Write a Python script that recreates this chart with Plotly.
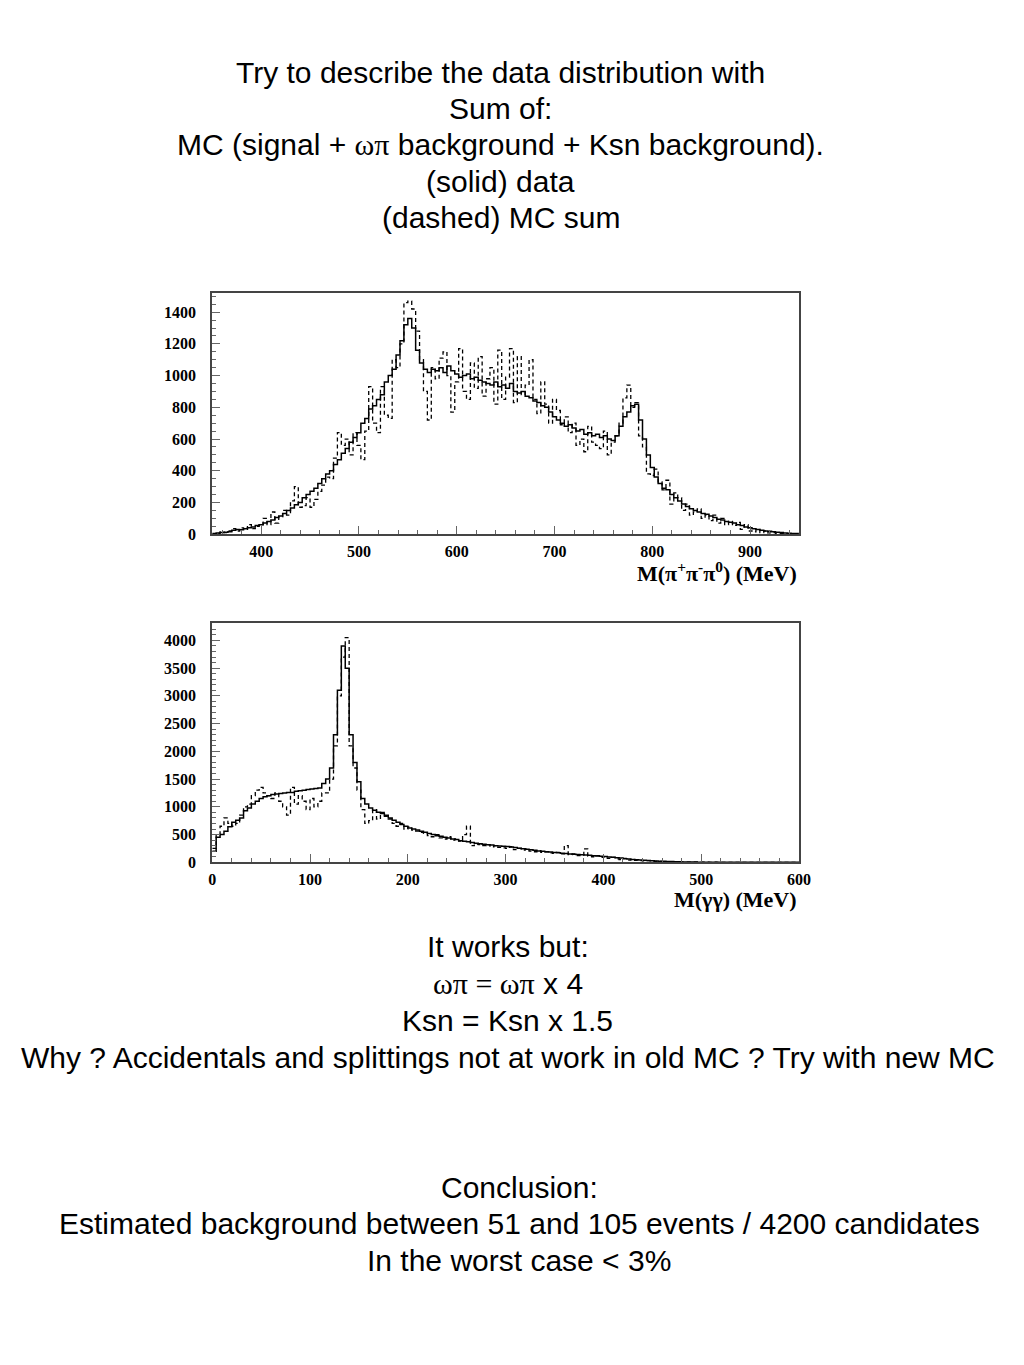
import numpy as np
import plotly.graph_objects as go

# ---------------- DATA ----------------
# Top: M(pi+ pi- pi0), 4 MeV bins from 350 to 950 MeV
top_bin_start = 350
top_bin_width = 4
top_data = [
    5, 8, 10, 12, 15,
    25, 30, 28, 35, 40,
    45, 55, 60, 70, 80,
    90, 105, 115, 130, 150,
    165, 185, 200, 230, 250,
    270, 290, 320, 350, 380,
    400, 440, 470, 510, 540,
    580, 610, 640, 700, 730,
    790, 810, 850, 880, 960,
    1000, 1040, 1130, 1220, 1320,
    1360, 1300, 1160, 1080, 1040,
    1020, 1040, 1030, 1050, 1020,
    1060, 1030, 1010, 990, 1000,
    1010, 980, 990, 970, 960,
    950, 940, 960, 930, 940,
    920, 950, 900, 890, 900,
    870, 860, 840, 830, 810,
    800, 770, 740, 720, 700,
    680, 690, 670, 650, 660,
    630, 640, 620, 630, 610,
    620, 600, 590, 620, 680,
    740, 770, 810, 820, 720,
    600, 500, 420, 360, 320,
    290, 280, 250, 230, 210,
    190, 175, 160, 150, 140,
    130, 125, 115, 105, 95,
    90, 80, 75, 70, 60,
    55, 45, 40, 35, 30,
    25, 20, 18, 15, 12,
    10, 8, 6, 5, 4,
]
top_mc = [
    0, 5, 15, 10, 20,
    35, 20, 40, 30, 60,
    35, 50, 60, 100, 60,
    140, 70, 110, 150, 120,
    210, 300, 170, 180, 230,
    170, 220, 270, 310, 360,
    350, 480, 640, 560, 600,
    500, 640, 560, 470, 650,
    930, 700, 640, 930, 750,
    730, 1100, 1050, 1200, 1460,
    1470, 1420, 1280, 1100, 900,
    720, 1050, 980, 1110, 1150,
    1000, 770, 960, 1170, 900,
    850, 1080, 920, 1120, 870,
    980, 1050, 820, 1160, 850,
    990, 1170, 830, 1120, 880,
    940, 1100, 850, 760, 960,
    820, 700, 850, 780, 690,
    740, 640, 700, 560, 600,
    520, 680, 580, 560, 540,
    650, 500, 580, 620, 700,
    860, 940, 800, 830, 620,
    550, 380, 370, 410, 330,
    280, 340, 190, 260, 230,
    150, 190, 120, 140, 160,
    100, 120, 85, 120, 70,
    100, 60, 80, 55, 75,
    30, 60, 20, 15, 30,
    10, 20, 8, 10, 5,
    5, 4, 3, 2, 2,
]

# Bottom: M(gamma gamma), 4 MeV bins from 0 to 600 MeV
bot_bin_start = 0
bot_bin_width = 4
bot_data = [
    200, 450, 500, 560, 640,
    720, 760, 800, 930, 980,
    1050, 1100, 1150, 1180, 1200,
    1220, 1230, 1240, 1250, 1260,
    1260, 1280, 1290, 1300, 1310,
    1320, 1330, 1340, 1420, 1500,
    1700, 2300, 3100, 3900, 3500,
    2300, 1800, 1450, 1150, 1050,
    980, 940, 900, 880, 850,
    800, 760, 720, 680, 650,
    620, 600, 580, 560, 540,
    520, 500, 480, 470, 450,
    440, 420, 410, 390, 380,
    370, 355, 345, 335, 325,
    315, 310, 300, 295, 290,
    285, 275, 265, 255, 245,
    235, 225, 215, 205, 200,
    190, 185, 175, 170, 165,
    160, 150, 145, 140, 135,
    130, 125, 120, 115, 110,
    105, 95, 90, 80, 75,
    65, 60, 50, 45, 40,
    35, 30, 28, 25, 20,
    18, 15, 12, 10, 8,
    6, 5, 4, 3, 2,
    2, 1, 1, 1, 1,
    0, 0, 0, 0, 0,
    0, 0, 0, 0, 0,
    0, 0, 0, 0, 0,
    0, 0, 0, 0, 0,
]
bot_mc = [
    250, 500, 650, 800, 700,
    650, 700, 850, 1000, 1050,
    1200, 1300, 1350, 1250, 1200,
    1150, 1250, 1100, 1000, 850,
    1350, 1050, 1200, 1100, 950,
    1150, 1000, 1100, 1250, 1250,
    1500, 2100, 3000, 3700, 4050,
    2100, 1700, 1300, 950, 700,
    750, 950, 780, 900, 830,
    780, 700, 650, 700, 600,
    640, 580, 560, 540, 520,
    480, 460, 500, 440, 420,
    460, 400, 420, 380, 500,
    650, 300, 330, 320, 300,
    320, 280, 300, 270, 260,
    250, 280, 230, 250, 220,
    240, 200, 190, 210, 180,
    190, 170, 160, 180, 150,
    300, 140, 150, 120, 130,
    240, 110, 100, 120, 90,
    100, 70, 90, 60, 50,
    70, 40, 50, 35, 30,
    25, 30, 20, 15, 18,
    10, 12, 8, 5, 6,
    4, 3, 2, 2, 1,
    1, 1, 0, 1, 0,
    0, 0, 0, 0, 0,
    0, 0, 0, 0, 0,
    0, 0, 0, 0, 0,
    0, 0, 0, 0, 0,
]

title_lines = [
    "Try to describe the data distribution with",
    "Sum of:",
    "MC (signal + <span style=\"font-family:'Liberation Serif'\">ωπ</span> background + Ksn background).",
    "(solid) data",
    "(dashed) MC sum",
]
middle_lines = [
    "It works but:",
    "<span style=\"font-family:'Liberation Serif'\">ωπ = ωπ</span> x 4",
    "Ksn = Ksn x 1.5",
    "Why ? Accidentals and splittings not at work in old MC ? Try with new MC",
]
bottom_lines = [
    "Conclusion:",
    "Estimated background between 51 and 105 events / 4200 candidates",
    "In the worst case < 3%",
]

# ---------------- FIGURE ----------------
OFF = 8      # default page body margin
S = 0.993    # observed rendering scale correction
W, H = 1008, 1337


def px_y(py):
    return 1 - (py / S - OFF) / H


def px_x(px):
    return (px / S - OFF) / W


def step_xy(start, width, vals):
    edges = start + width * np.arange(len(vals) + 1)
    return edges, list(vals) + [vals[-1]]


fig = go.Figure()

tx, ty = step_xy(top_bin_start, top_bin_width, top_data)
fig.add_trace(go.Scatter(x=tx, y=ty, mode="lines", line=dict(shape="hv", color="black", width=1.5),
                         xaxis="x", yaxis="y", showlegend=False))
tx, ty = step_xy(top_bin_start, top_bin_width, top_mc)
fig.add_trace(go.Scatter(x=tx, y=ty, mode="lines", line=dict(shape="hv", color="black", width=1.3, dash="4px,3px"),
                         xaxis="x", yaxis="y", showlegend=False))

bx, by = step_xy(bot_bin_start, bot_bin_width, bot_data)
fig.add_trace(go.Scatter(x=bx, y=by, mode="lines", line=dict(shape="hv", color="black", width=1.5),
                         xaxis="x2", yaxis="y2", showlegend=False))
bx, by = step_xy(bot_bin_start, bot_bin_width, bot_mc)
fig.add_trace(go.Scatter(x=bx, y=by, mode="lines", line=dict(shape="hv", color="black", width=1.3, dash="4px,3px"),
                         xaxis="x2", yaxis="y2", showlegend=False))

tickfont = dict(family="Liberation Serif", size=16, color="black", weight="bold")
axis_common = dict(showline=True, linecolor="#444", linewidth=2, mirror=True, showgrid=False,
                   zeroline=False, ticks="inside", ticklen=8, tickcolor="#666", tickwidth=1,
                   tickfont=tickfont)

xdom = [px_x(210), px_x(802)]
fig.update_layout(
    width=W, height=H,
    margin=dict(l=0, r=0, t=0, b=0),
    paper_bgcolor="white", plot_bgcolor="white",
    xaxis=dict(domain=xdom, range=[350, 950], anchor="y", tickmode="linear", tick0=0, dtick=100,
               minor=dict(dtick=20, ticks="inside", ticklen=4, tickcolor="#666"),
               ticklabelstandoff=2, **axis_common),
    yaxis=dict(domain=[px_y(534), px_y(293)], range=[0, 1520], anchor="x", tickmode="linear", tick0=0,
               dtick=200, minor=dict(dtick=50, ticks="inside", ticklen=4, tickcolor="#666"),
               ticklabelstandoff=11, **axis_common),
    xaxis2=dict(domain=xdom, range=[0, 600], anchor="y2", tickmode="linear", tick0=0, dtick=100,
                minor=dict(dtick=20, ticks="inside", ticklen=4, tickcolor="#666"),
                ticklabelstandoff=2, **axis_common),
    yaxis2=dict(domain=[px_y(862), px_y(623)], range=[0, 4310], anchor="x2", tickmode="linear", tick0=0,
                dtick=500, minor=dict(dtick=100, ticks="inside", ticklen=4, tickcolor="#666"),
                ticklabelstandoff=11, **axis_common),
)

textfont = dict(family="Liberation Sans", size=30, color="black")
annotations = []


def add_lines(lines, cx, y0, step):
    for i, t in enumerate(lines):
        annotations.append(dict(text=t, x=px_x(cx), y=px_y(y0 + i * step), xref="paper", yref="paper",
                                xanchor="center", yanchor="middle", showarrow=False, font=textfont))


add_lines(title_lines, 501, 72, 36.3)
add_lines(middle_lines, 508, 946, 37)
add_lines(bottom_lines, 520, 1187, 36.5)

labfont = dict(family="Liberation Serif", size=22, color="black", weight="bold")
annotations.append(dict(text="M(π<sup>+</sup>π<sup>-</sup>π<sup>0</sup>) (MeV)", x=px_x(802), y=px_y(572),
                        xref="paper", yref="paper", xanchor="right", yanchor="middle", showarrow=False,
                        font=labfont))
annotations.append(dict(text="M(γγ) (MeV)", x=px_x(802), y=px_y(899),
                        xref="paper", yref="paper", xanchor="right", yanchor="middle", showarrow=False,
                        font=labfont))
fig.update_layout(annotations=annotations)

fig.write_html("out.html")
